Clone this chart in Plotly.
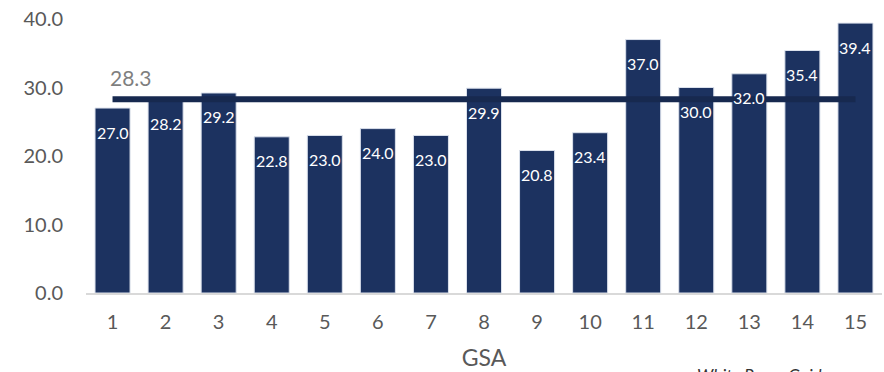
import plotly.graph_objects as go

# GSA categories and values
gsa = [str(i) for i in range(1, 16)]
values = [27.0, 28.2, 29.2, 22.8, 23.0, 24.0, 23.0, 29.9, 20.8, 23.4, 37.0, 30.0, 32.0, 35.4, 39.4]
average = 28.3
y_ticks = [0, 10, 20, 30, 40]
y_tick_text = ["0.0", "10.0", "20.0", "30.0", "40.0"]

BAR = "#1c3260"
LINE = "#17294f"
GREY = "#595959"
FONT = "Lato"

fig = go.Figure()
fig.add_trace(go.Bar(
    x=gsa, y=values,
    marker=dict(color=BAR, line=dict(color="#dbe1ec", width=1)),
    hoverinfo="x+y",
))
# average line across the GSAs
fig.add_trace(go.Scatter(
    x=[gsa[0], gsa[-1]], y=[average, average],
    mode="lines",
    line=dict(color=LINE, width=6),
    hoverinfo="skip",
))

annotations = []
for i, v in enumerate(values):
    annotations.append(dict(
        x=i, y=v, xref="x", yref="y", text=f"{v:.1f}",
        showarrow=False, yanchor="middle", yshift=-24,
        font=dict(family=FONT, size=16, color="white"),
    ))
annotations.append(dict(
    x=0, y=average, xref="x", yref="y", text=f"{average:.1f}",
    showarrow=False, xanchor="left", yanchor="middle", xshift=-5, yshift=22,
    font=dict(family=FONT, size=21, color="#7f7f7f"),
))
annotations.append(dict(
    x=0.765, y=-0.255, xref="paper", yref="paper", text="White Paper Guide",
    showarrow=False, xanchor="left", yanchor="top",
    font=dict(family=FONT, size=17, color="#333333", style="italic"),
))

fig.update_layout(
    width=884, height=372,
    margin=dict(l=86, r=2, t=19, b=79),
    paper_bgcolor="white", plot_bgcolor="white",
    showlegend=False,
    bargap=0.34,
    font=dict(family=FONT, color=GREY),
    annotations=annotations,
    xaxis=dict(
        type="category",
        showline=True, linecolor="#d9d9d9", linewidth=2,
        showgrid=False, ticks="",
        tickfont=dict(family=FONT, size=20, color=GREY),
        ticklabelstandoff=10,
        title=dict(text="GSA", font=dict(family=FONT, size=23, color=GREY), standoff=18),
    ),
    yaxis=dict(
        range=[0, 40],
        tickvals=y_ticks, ticktext=y_tick_text,
        showgrid=False, zeroline=False, showline=False, ticks="",
        tickfont=dict(family=FONT, size=20, color=GREY),
        ticklabelstandoff=22,
    ),
)

fig.write_html("out.html")
